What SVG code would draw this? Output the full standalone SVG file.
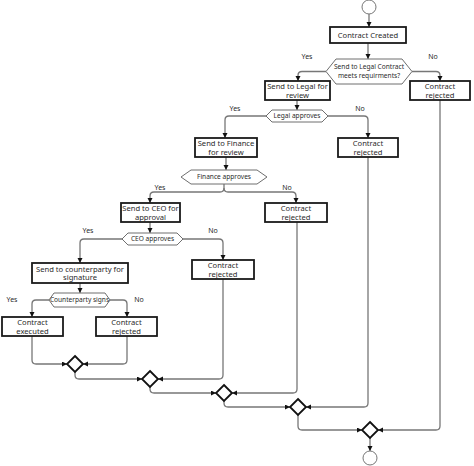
<svg xmlns="http://www.w3.org/2000/svg" width="474" height="466" viewBox="0 0 474 466">
<defs>
<marker id="ah" markerUnits="userSpaceOnUse" markerWidth="6" markerHeight="6" refX="5" refY="2.5" orient="auto">
<path d="M0,0 L5,2.5 L0,5 z" fill="#111"/>
</marker>
<style>
.box{fill:#fff;stroke:#1a1a1a;stroke-width:1.8}
.hex{fill:#fff;stroke:#6e6e6e;stroke-width:1}
.dia{fill:#fff;stroke:#111;stroke-width:1.8}
.circ{fill:#fff;stroke:#777;stroke-width:1}
.t{font-family:"Noto Sans","Liberation Sans",sans-serif;font-size:7.6px;fill:#2a2a2a;text-anchor:middle}
.h{font-family:"Noto Sans","Liberation Sans",sans-serif;font-size:6.6px;fill:#2a2a2a;text-anchor:middle}
.l{font-family:"Noto Sans","Liberation Sans",sans-serif;font-size:7px;fill:#2a2a2a;text-anchor:middle}
.c path{fill:none;stroke:#777;stroke-width:1.3;marker-end:url(#ah)}
</style>
</defs>
<rect width="474" height="466" fill="#fff"/>

<g id="connectors" class="c">
<path d="M369,14 V27"/>
<path d="M368,43 V59"/>
<path d="M326,71.5 H302 Q298,71.5 298,75.5 V81"/>
<path d="M412,71.5 H436 Q440,71.5 440,75.5 V81"/>
<path d="M297,100 V110"/>
<path d="M266,116 H229 Q225,116 225,120 V138"/>
<path d="M328,116 H364 Q368,116 368,120 V138"/>
<path d="M226,157 V170"/>
<path d="M224,184 V188 Q224,192 220,192 H154 Q150,192 150,196 V203"/>
<path d="M224,188 Q224,192 228,192 H292 Q296,192 296,196 V203"/>
<path d="M150,222 V233"/>
<path d="M122,239 H84 Q80,239 80,243 V263"/>
<path d="M183,239 H219 Q223,239 223,243 V260"/>
<path d="M80,283 V293"/>
<path d="M49,300 H36 Q32,300 32,304 V317"/>
<path d="M110,300 H123 Q127,300 127,304 V317"/>
<path d="M32,336 V360 Q32,364 36,364 H67"/>
<path d="M127,336 V360 Q127,364 123,364 H83"/>
<path d="M75,372 V375 Q75,379 79,379 H142"/>
<path d="M223,279 V375 Q223,379 219,379 H158"/>
<path d="M150,387 V389 Q150,393 154,393 H216"/>
<path d="M297,222 V389 Q297,393 293,393 H232"/>
<path d="M224,401 V403 Q224,407 228,407 H290"/>
<path d="M368,157 V403 Q368,407 364,407 H306"/>
<path d="M298,415 V426 Q298,430 302,430 H362"/>
<path d="M440,100 V426 Q440,430 436,430 H378"/>
<path d="M370,438 V451"/>
</g>

<g id="labels">
<text class="l" x="307" y="59">Yes</text>
<text class="l" x="433" y="59">No</text>
<text class="l" x="235" y="111">Yes</text>
<text class="l" x="360" y="111">No</text>
<text class="l" x="160" y="190">Yes</text>
<text class="l" x="287" y="190">No</text>
<text class="l" x="88" y="233">Yes</text>
<text class="l" x="213" y="233">No</text>
<text class="l" x="12" y="302">Yes</text>
<text class="l" x="139" y="302">No</text>
</g>

<g id="start"><circle class="circ" cx="369" cy="7" r="7"/></g>

<g id="created"><rect class="box" x="330" y="27" width="76" height="16"/><text class="t" x="368" y="38">Contract Created</text></g>

<g id="dec1"><polygon class="hex" points="326,71.5 336,59 402,59 412,71.5 402,84 336,84"/><text class="h" x="369" y="69">Send to Legal Contract</text><text class="h" x="369" y="78">meets requirments?</text></g>

<g id="legal"><rect class="box" x="265" y="81" width="65" height="19"/><text class="t" x="297.5" y="89">Send to Legal for</text><text class="t" x="297.5" y="97.5">review</text></g>

<g id="rej1"><rect class="box" x="410" y="81" width="60" height="19"/><text class="t" x="440" y="89">Contract</text><text class="t" x="440" y="97.5">rejected</text></g>

<g id="dec2"><polygon class="hex" points="266,116 272,110 322,110 328,116 322,122 272,122"/><text class="h" x="297" y="118.3">Legal approves</text></g>

<g id="finance"><rect class="box" x="195" y="138" width="62" height="19"/><text class="t" x="226" y="146">Send to Finance</text><text class="t" x="226" y="154.5">for review</text></g>

<g id="rej2"><rect class="box" x="338" y="138" width="60" height="19"/><text class="t" x="368" y="146">Contract</text><text class="t" x="368" y="154.5">rejected</text></g>

<g id="dec3"><polygon class="hex" points="181,177 191,170 257,170 267,177 257,184 191,184"/><text class="h" x="224" y="179.3">Finance approves</text></g>

<g id="ceo"><rect class="box" x="121" y="203" width="59" height="19"/><text class="t" x="150.5" y="211">Send to CEO for</text><text class="t" x="150.5" y="219.5">approval</text></g>

<g id="rej3"><rect class="box" x="265" y="203" width="62" height="19"/><text class="t" x="296" y="211">Contract</text><text class="t" x="296" y="219.5">rejected</text></g>

<g id="dec4"><polygon class="hex" points="122,239 128,233 177,233 183,239 177,245 128,245"/><text class="h" x="152.5" y="241.3">CEO approves</text></g>

<g id="counter"><rect class="box" x="32" y="263" width="96" height="20"/><text class="t" x="80" y="271.5">Send to counterparty for</text><text class="t" x="80" y="280">signature</text></g>

<g id="rej4"><rect class="box" x="192" y="260" width="62" height="19"/><text class="t" x="223" y="268">Contract</text><text class="t" x="223" y="276.5">rejected</text></g>

<g id="dec5"><polygon class="hex" points="49,300 54,293 105,293 110,300 105,307 54,307"/><text class="h" x="79.5" y="302.3">Counterparty signs</text></g>

<g id="executed"><rect class="box" x="2" y="317" width="61" height="19"/><text class="t" x="32.5" y="325">Contract</text><text class="t" x="32.5" y="333.5">executed</text></g>

<g id="rej5"><rect class="box" x="96" y="317" width="61" height="19"/><text class="t" x="126.5" y="325">Contract</text><text class="t" x="126.5" y="333.5">rejected</text></g>

<g id="merge1"><polygon class="dia" points="75,356 83,364 75,372 67,364"/></g>
<g id="merge2"><polygon class="dia" points="150,371 158,379 150,387 142,379"/></g>
<g id="merge3"><polygon class="dia" points="224,385 232,393 224,401 216,393"/></g>
<g id="merge4"><polygon class="dia" points="298,399 306,407 298,415 290,407"/></g>
<g id="merge5"><polygon class="dia" points="370,422 378,430 370,438 362,430"/></g>

<g id="end"><circle class="circ" cx="370" cy="458" r="7"/></g>
</svg>
